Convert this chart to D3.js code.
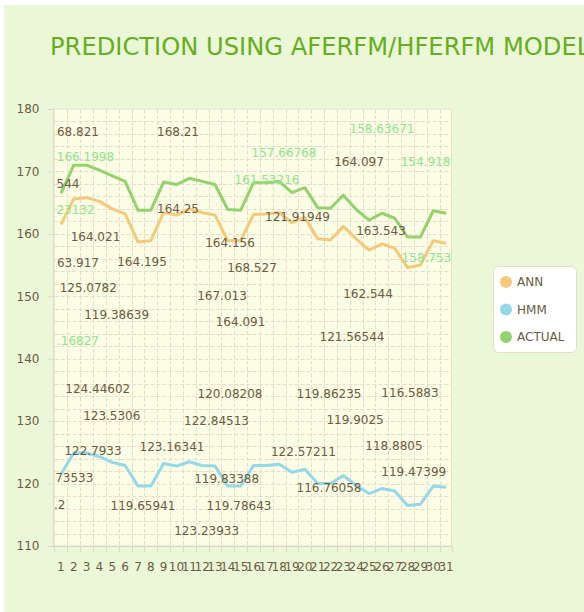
<!DOCTYPE html>
<html><head><meta charset="utf-8">
<script src="https://cdn.jsdelivr.net/npm/d3@7"></script>
<style>html,body{margin:0;padding:0;background:#fff;}svg{display:block;}</style>
</head><body>
<script>
const title = "PREDICTION USING AFERFM/HFERFM MODEL";
const categories = d3.range(1, 32).map(String);
const seriesNames = ["ANN", "HMM", "ACTUAL"];
const annValues = [161.5,165.6,165.8,165.2,164.0,163.2,158.7,158.9,163.4,163.0,164.0,163.4,163.0,158.9,158.9,163.1,163.2,163.4,161.8,162.6,159.2,159.0,161.2,159.2,157.4,158.4,157.7,154.6,155.0,158.9,158.5];
const hmmValues = [121.5,124.9,124.9,124.3,123.4,122.9,119.6,119.6,123.2,122.8,123.5,122.9,122.8,119.6,119.6,122.9,122.9,123.1,121.8,122.3,120.0,120.0,121.3,119.7,118.4,119.2,118.8,116.5,116.7,119.6,119.4];
const actualValues = [166.5,171.0,171.0,170.2,169.3,168.4,163.8,163.8,168.3,167.9,168.9,168.4,167.9,163.9,163.8,168.2,168.2,168.4,166.6,167.4,164.2,164.1,166.2,163.9,162.2,163.3,162.5,159.5,159.5,163.7,163.3];
const yTicks = [110,120,130,140,150,160,170,180];
// scattered value labels: text, anchor position (category units), anchor value, series group
const labelTexts = ["68.821","168.21","166.1998","544","23132","164.021","164.25","164.156","161.53216","157.66768","158.63671","164.097","154.918","121.91949","163.543","158.753","63.917","164.195","168.527","125.0782","167.013","162.544","119.38639","164.091",".16827","121.56544","124.44602","120.08208","119.86235","116.5883","123.5306","122.84513","119.9025","122.7933","123.16341","118.8805","122.57211","73533","119.83388","119.47399","116.76058",".2","119.65941","119.78643","123.23933"];
const labelCats = [2.33,10.12,2.91,1.55,2.14,3.69,10.12,14.17,17.05,18.38,26.01,24.22,29.40,19.43,25.93,29.47,2.33,7.32,15.88,3.13,13.55,24.92,5.34,14.99,2.33,23.67,3.87,14.17,21.88,28.19,4.96,13.12,23.91,3.50,9.65,26.94,19.89,2.04,13.91,28.48,21.88,0.91,7.39,14.87,12.35];
const labelVals = [176.3,176.3,172.26,167.99,163.82,159.54,163.93,158.58,168.63,172.90,176.75,171.46,171.46,162.75,160.46,156.08,155.38,155.54,154.48,151.28,150.09,150.37,147.00,145.83,142.89,143.43,135.15,134.35,134.35,134.56,130.82,130.02,130.18,125.22,125.91,126.02,125.01,120.94,120.68,121.90,119.24,116.57,116.41,116.41,112.40];
const labelGroups = ["v","v","a","v","a","v","v","v","a","a","a","v","a","v","v","a","v","v","v","v","v","v","v","v","a","v","v","v","v","v","v","v","v","v","v","v","v","v","v","v","v","v","v","v","v"];

const W = 584, H = 612;
const colors = {ANN: "#f6c97a", HMM: "#94d8ea", ACTUAL: "#93d26f"};
const textColor = "#6b5b40";
const font = "'DejaVu Sans', Verdana, sans-serif";

const svg = d3.select("body").append("svg").attr("width", W).attr("height", H);
svg.append("rect").attr("x", 4).attr("y", 5).attr("width", W - 4).attr("height", H - 5).attr("fill", "#ebf8d8");

svg.append("text").attr("x", 50).attr("y", 55).attr("fill", "#66ad22")
  .style("font-family", font).style("font-size", "24.2px").text(title);

const pLeft = 54.5, pRight = 452.5, pTop = 109, pBottom = 546;
const x = d3.scaleBand().domain(categories).range([pLeft, pRight]);
const xLin = d3.scaleLinear().domain([0.5, 31.5]).range([pLeft, pRight]);
const y = d3.scaleLinear().domain([110, 180]).range([pBottom, pTop]);

const g = svg.append("g");
g.append("rect").attr("x", pLeft - 1).attr("y", y(180)).attr("width", pRight - pLeft).attr("height", pBottom - y(180))
  .attr("fill", "#fbfde5").attr("stroke", "#e4dfcc").attr("stroke-width", 1);

// horizontal grid every 2 units
g.append("g").selectAll("line").data(d3.range(112, 180, 2)).join("line")
  .attr("x1", pLeft).attr("x2", pRight - 1).attr("y1", d => Math.round(y(d)) + 0.5).attr("y2", d => Math.round(y(d)) + 0.5)
  .attr("stroke", "#e6dccd").attr("stroke-dasharray", "4,2");
// vertical grid at band edges
const edges = categories.slice(1).map(c => x(c));
g.append("g").selectAll("line").data(edges).join("line")
  .attr("x1", d => Math.round(d) + 0.5).attr("x2", d => Math.round(d) + 0.5).attr("y1", y(180)).attr("y2", pBottom)
  .attr("stroke", "#e6dccd").attr("stroke-dasharray", "4,2");

// x axis
const xAxis = d3.axisBottom(x).tickSize(0).tickPadding(16);
const xg = g.append("g").attr("transform", `translate(0,${pBottom})`).call(xAxis);
xg.select(".domain").attr("stroke", "#ddd8c4");
xg.selectAll("text").attr("fill", textColor).style("font-family", font).style("font-size", "12px");
// x tick marks at band edges
g.append("g").selectAll("line").data([pLeft - 1, ...edges, pRight - 1]).join("line")
  .attr("x1", d => Math.round(d) + 0.5).attr("x2", d => Math.round(d) + 0.5).attr("y1", pBottom).attr("y2", pBottom + 6)
  .attr("stroke", "#ddd8c4");

// y axis
const yAxis = d3.axisLeft(y).tickValues(yTicks).tickSize(6).tickPadding(8);
const yg = g.append("g").attr("transform", `translate(${pLeft - 1},0)`).call(yAxis);
yg.select(".domain").attr("stroke", "#ddd8c4");
yg.selectAll(".tick line").attr("stroke", "#ddd8c4");
yg.selectAll("text").attr("fill", textColor).style("font-family", font).style("font-size", "12px");

// clip
svg.append("clipPath").attr("id", "plotclip").append("rect")
  .attr("x", pLeft).attr("y", y(180)).attr("width", pRight - pLeft - 1).attr("height", pBottom - y(180));

const line = d3.line().x((d, i) => x(categories[i]) + x.bandwidth() / 2).y(d => y(d));
const series = [["ACTUAL", actualValues], ["ANN", annValues], ["HMM", hmmValues]];
g.append("g").selectAll("path").data(series).join("path")
  .attr("d", d => line(d[1])).attr("fill", "none").attr("stroke", d => colors[d[0]])
  .attr("stroke-width", 3).attr("stroke-linejoin", "round");

// labels
const labels = labelTexts.map((t, i) => ({t, c: labelCats[i], v: labelVals[i], gr: labelGroups[i]}));
svg.append("g").attr("clip-path", "url(#plotclip)").selectAll("text").data(labels).join("text")
  .attr("x", d => xLin(d.c)).attr("y", d => y(d.v)).attr("text-anchor", "middle").attr("dominant-baseline", "central")
  .attr("fill", d => d.gr === "a" ? "#8ee58c" : textColor)
  .style("font-family", font).style("font-size", "12px").text(d => d.t);

// legend
const lg = svg.append("g").attr("transform", "translate(493,266)");
lg.append("rect").attr("x", 0.5).attr("y", 0.5).attr("width", 83).attr("height", 86).attr("rx", 5)
  .attr("fill", "#ffffff").attr("stroke", "#e2ddc8");
const items = lg.selectAll("g").data(seriesNames).join("g").attr("transform", (d, i) => `translate(0,${16 + i * 27.5})`);
items.append("circle").attr("cx", 13).attr("cy", 0).attr("r", 6).attr("fill", d => colors[d]);
items.append("text").attr("x", 24).attr("y", 0).attr("dominant-baseline", "central").attr("fill", textColor)
  .style("font-family", font).style("font-size", "12px").text(d => d);
</script>
</body></html>
